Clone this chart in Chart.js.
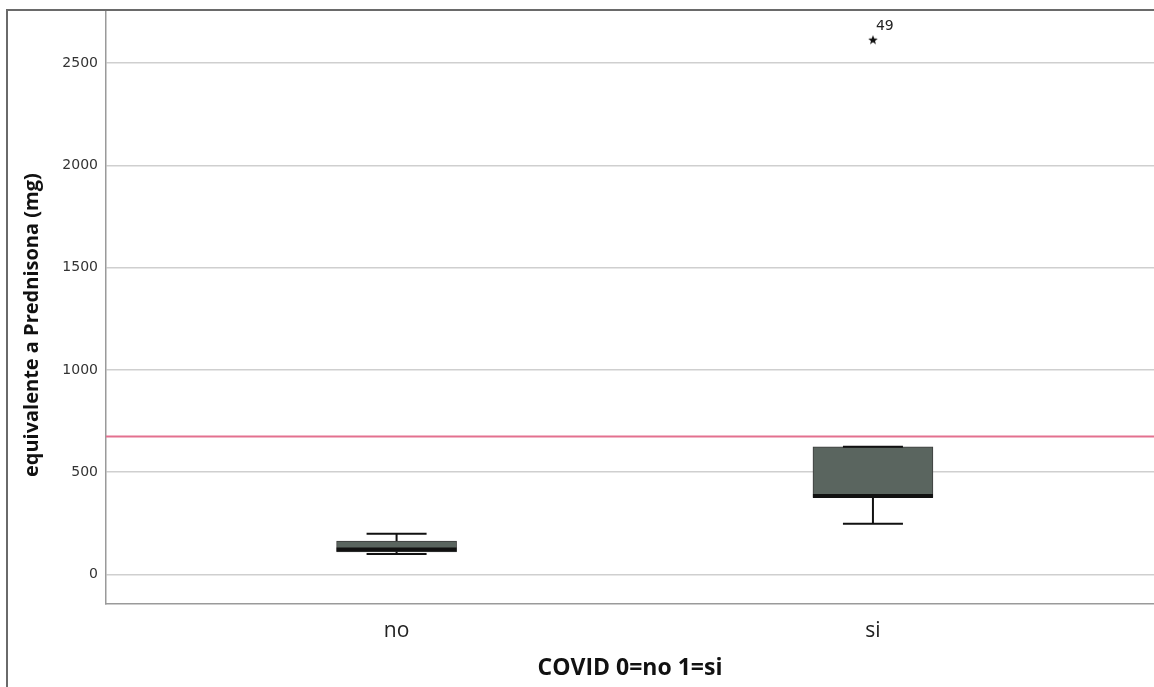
<!DOCTYPE html>
<html>
<head>
<meta charset="utf-8">
<script src="https://cdn.jsdelivr.net/npm/chart.js@4.4.1/dist/chart.umd.min.js"></script>
<style>
  html, body { margin: 0; padding: 0; background: #fff; overflow: hidden; }
  #wrap { width: 1154px; height: 687px; }
</style>
</head>
<body>
<div id="wrap"><canvas id="boxChart"></canvas></div>
<script>
// COVID groups and box statistics (mg prednisone equivalent)
const groups = ['no', 'si'];
const whiskerLow = [100, 247];
const q1 = [110, 376];
const medians = [121, 383];
const q3 = [163, 624];
const whiskerHigh = [198, 624];

// outliers: group index, value, case label
const outlierGroup = [1];
const outlierValue = [2615];
const outlierLabel = ['49'];

const refLine = 674;
const yTicks = [0, 500, 1000, 1500, 2000, 2500];

// small filled star used as point style for outliers
function makeStar(size) {
    const c = document.createElement('canvas');
    c.width = size; c.height = size;
    const g = c.getContext('2d');
    const r = size / 2, cx = r, cy = r + 0.5;
    g.beginPath();
    for (let i = 0; i < 10; i++) {
        const rad = i % 2 === 0 ? r : r * 0.42;
        const a = -Math.PI / 2 + i * Math.PI / 5;
        g.lineTo(cx + rad * Math.cos(a), cy + rad * Math.sin(a));
    }
    g.closePath();
    g.fillStyle = '#111';
    g.fill();
    return c;
}

const boxPlugin = {
    id: 'boxParts',
    beforeDraw(chart) {
        const ctx = chart.ctx;
        ctx.save();
        ctx.fillStyle = '#fff';
        ctx.fillRect(0, 0, chart.width, chart.height);
        ctx.restore();
    },
    afterDatasetsDraw(chart) {
        const ctx = chart.ctx;
        const x = chart.scales.x, y = chart.scales.y;
        const area = chart.chartArea;
        ctx.save();
        groups.forEach((g, i) => {
            const cx = x.getPixelForValue(i);
            const capHalf = 30;
            ctx.strokeStyle = '#111';
            ctx.lineWidth = 2;
            // whiskers
            ctx.beginPath();
            ctx.moveTo(cx, y.getPixelForValue(q3[i]));
            ctx.lineTo(cx, y.getPixelForValue(whiskerHigh[i]));
            ctx.moveTo(cx, y.getPixelForValue(q1[i]));
            ctx.lineTo(cx, y.getPixelForValue(whiskerLow[i]));
            ctx.stroke();
            ctx.beginPath();
            ctx.moveTo(cx - capHalf, y.getPixelForValue(whiskerHigh[i]));
            ctx.lineTo(cx + capHalf, y.getPixelForValue(whiskerHigh[i]));
            ctx.moveTo(cx - capHalf, y.getPixelForValue(whiskerLow[i]));
            ctx.lineTo(cx + capHalf, y.getPixelForValue(whiskerLow[i]));
            ctx.stroke();
            // median
            ctx.lineWidth = 4;
            ctx.beginPath();
            ctx.moveTo(cx - 60, y.getPixelForValue(medians[i]));
            ctx.lineTo(cx + 60, y.getPixelForValue(medians[i]));
            ctx.stroke();
        });
        // reference line
        const ry = y.getPixelForValue(refLine);
        ctx.strokeStyle = '#e3718f';
        ctx.lineWidth = 2;
        ctx.beginPath();
        ctx.moveTo(area.left, ry);
        ctx.lineTo(area.right, ry);
        ctx.stroke();
        // outlier labels
        ctx.fillStyle = '#222';
        ctx.font = '14px "DejaVu Sans"';
        ctx.textBaseline = 'middle';
        outlierGroup.forEach((g, k) => {
            ctx.fillText(outlierLabel[k], x.getPixelForValue(g) + 3, y.getPixelForValue(outlierValue[k]) - 13);
        });
        ctx.restore();
    },
    afterDraw(chart) {
        // outer frame
        const ctx = chart.ctx;
        ctx.save();
        ctx.strokeStyle = '#6a6a6a';
        ctx.lineWidth = 2;
        ctx.beginPath();
        ctx.moveTo(7, chart.height);
        ctx.lineTo(7, 10);
        ctx.lineTo(chart.width, 10);
        ctx.stroke();
        ctx.restore();
    }
};

new Chart(document.getElementById('boxChart').getContext('2d'), {
    type: 'bar',
    data: {
        datasets: [{
            data: groups.map((g, i) => ({ x: i, y: [q1[i], q3[i]] })),
            backgroundColor: '#5a655f',
            borderColor: '#3c3c3c',
            borderWidth: 1,
            borderSkipped: false,
            barThickness: 120
        }, {
            type: 'scatter',
            data: outlierGroup.map((g, k) => ({ x: g, y: outlierValue[k] })),
            pointStyle: makeStar(10),
            pointRadius: 5
        }]
    },
    options: {
        responsive: true,
        maintainAspectRatio: false,
        animation: false,
        layout: { autoPadding: false, padding: { top: 10, left: 0, right: 0, bottom: 0 } },
        plugins: {
            legend: { display: false },
            tooltip: { enabled: false }
        },
        scales: {
            x: {
                type: 'linear',
                offset: false,
                min: -0.61,
                max: 1.59,
                afterBuildTicks: s => { s.ticks = groups.map((g, i) => ({ value: i })); },
                afterFit: s => { s.height = 83; s.paddingLeft = 0; s.paddingRight = 0; },
                ticks: {
                    callback: v => groups[v],
                    color: '#222',
                    font: { family: 'Open Sans', size: 21 },
                    padding: 14
                },
                grid: { display: false, drawTicks: false },
                border: { color: '#9a9a9a', width: 1.5 },
                title: {
                    display: true,
                    text: 'COVID 0=no 1=si',
                    color: '#111',
                    font: { family: 'Open Sans', size: 23, weight: 'bold' },
                    padding: { top: 0, bottom: 5 }
                }
            },
            y: {
                min: -145,
                max: 2760,
                afterBuildTicks: s => { s.ticks = yTicks.map(v => ({ value: v })); },
                afterFit: s => { s.width = 106; s.paddingTop = 0; s.paddingBottom = 0; },
                ticks: {
                    callback: v => String(v),
                    color: '#333',
                    font: { family: 'DejaVu Sans', size: 14 },
                    padding: 8
                },
                grid: { color: '#cfcfcf', lineWidth: 1.5, drawTicks: false },
                border: { color: '#9a9a9a', width: 1.5 },
                title: {
                    display: true,
                    text: 'equivalente a Prednisona (mg)\u00A0\u00A0\u00A0\u00A0\u00A0\u00A0\u00A0',
                    color: '#111',
                    font: { family: 'Open Sans', size: 20, weight: 'bold' },
                    padding: { top: 20, bottom: 0 }
                }
            }
        }
    },
    plugins: [boxPlugin]
});
</script>
</body>
</html>
